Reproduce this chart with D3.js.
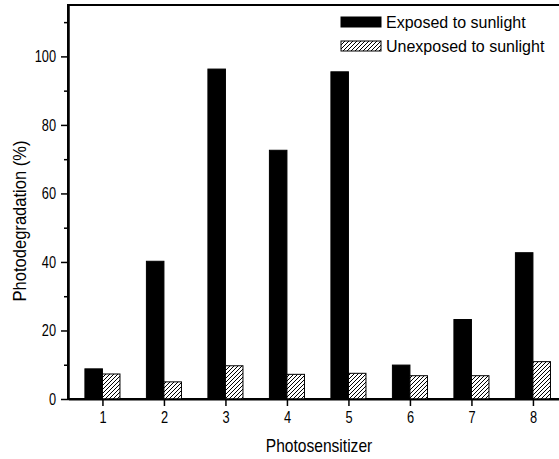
<!DOCTYPE html>
<html>
<head>
<meta charset="utf-8">
<script src="https://cdn.jsdelivr.net/npm/d3@7"></script>
<style>
  body { margin: 0; background: #fff; }
  svg { display: block; }
  svg text { fill: #000; font-family: "Liberation Sans", Arial, Helvetica, sans-serif; }
</style>
</head>
<body>
<div id="chart"></div>
<script>
// values
let categories = [1, 2, 3, 4, 5, 6, 7, 8];
let exposed = [8.8, 40.2, 96.3, 72.6, 95.5, 9.9, 23.2, 42.7];
let unexposed = [7.3, 5.0, 9.7, 7.2, 7.5, 6.8, 6.8, 10.9];
let seriesNames = ['Exposed to sunlight', 'Unexposed to sunlight'];
let yTicks = [0, 20, 40, 60, 80, 100];
let yMinorTicks = [10, 30, 50, 70, 90, 110];
let xTitle = 'Photosensitizer';
let yTitle = 'Photodegradation (%)';

let width = 559;
let height = 459;
let plotLeft = 68, plotRight = 560, plotTop = 5, plotBottom = 399;
let barW = 0.285;

// the original uses a condensed face; squeeze the installed one to match
function squeeze(sel, k) {
  sel.each(function() {
    let w = this.getComputedTextLength();
    d3.select(this)
      .attr('textLength', w * k)
      .attr('lengthAdjust', 'spacingAndGlyphs');
  });
}

let svg = d3.select('#chart').append('svg')
  .attr('width', width)
  .attr('height', height);

let defs = svg.append('defs');
let pat = defs.append('pattern')
  .attr('id', 'hatch')
  .attr('patternUnits', 'userSpaceOnUse')
  .attr('width', 4)
  .attr('height', 4);
pat.append('rect')
  .attr('width', 4)
  .attr('height', 4)
  .attr('fill', '#fff');
pat.append('path')
  .attr('d', 'M-1,1 l2,-2 M0,4 l4,-4 M3,5 l2,-2')
  .attr('stroke', '#000')
  .attr('stroke-width', 1);

let x = d3.scaleLinear()
  .domain([0.44, 8.44])
  .range([plotLeft, plotRight]);

let y = d3.scaleLinear()
  .domain([0, 115])
  .range([plotBottom, plotTop]);

// frame first, so marks sit on it
svg.append('path')
  .attr('d', `M${plotRight},${plotTop}L${plotLeft},${plotTop}L${plotLeft},${plotBottom}L${plotRight},${plotBottom}`)
  .style('fill', 'none')
  .style('stroke', '#000')
  .style('stroke-width', '2px');

// bars
let groups = svg.append('g').attr('class', 'bars');

groups.selectAll('rect.exposed')
  .data(categories)
  .enter()
  .append('rect')
  .attr('class', 'exposed')
  .attr('x', d => x(d - barW))
  .attr('y', (d, i) => y(exposed[i]))
  .attr('width', d => x(d) - x(d - barW))
  .attr('height', (d, i) => y(0) - y(exposed[i]))
  .attr('fill', '#000')
  .attr('stroke', '#000')
  .attr('stroke-width', 1);

groups.selectAll('rect.unexposed')
  .data(categories)
  .enter()
  .append('rect')
  .attr('class', 'unexposed')
  .attr('x', d => x(d))
  .attr('y', (d, i) => y(unexposed[i]))
  .attr('width', d => x(d + barW) - x(d))
  .attr('height', (d, i) => y(0) - y(unexposed[i]))
  .attr('fill', 'url(#hatch)')
  .attr('stroke', '#000')
  .attr('stroke-width', 1);

// axes, keeping the domain line this time
let yAxis = svg.append('g')
  .attr('transform', `translate(${plotLeft},0)`)
  .call(d3.axisLeft(y).tickValues(yTicks).tickSize(7).tickSizeOuter(0).tickPadding(5));

let yMinor = svg.append('g')
  .attr('transform', `translate(${plotLeft},0)`)
  .call(d3.axisLeft(y).tickValues(yMinorTicks).tickSize(4).tickSizeOuter(0).tickFormat(''));

let xAxis = svg.append('g')
  .attr('transform', `translate(0,${plotBottom})`)
  .call(d3.axisBottom(x).tickValues(categories).tickSize(7).tickSizeOuter(0).tickPadding(6));

[yAxis, yMinor, xAxis].forEach(a => {
  a.select('.domain').attr('stroke', '#000').attr('stroke-width', 2);
  a.selectAll('line').attr('stroke', '#000').attr('stroke-width', 1.5);
  a.selectAll('text')
    .style('font-size', '16px')
    .attr('fill', '#000')
    .call(squeeze, 0.8);
});

// titles
svg.append('text')
  .attr('x', 319)
  .attr('y', 452)
  .attr('text-anchor', 'middle')
  .style('font-size', '19px')
  .text(xTitle)
  .call(squeeze, 0.82);

svg.append('text')
  .attr('transform', 'translate(26,221) rotate(-90)')
  .attr('text-anchor', 'middle')
  .style('font-size', '19px')
  .text(yTitle)
  .call(squeeze, 0.87);

// legend
let legend = svg.append('g');
let fills = ['#000', 'url(#hatch)'];
seriesNames.forEach((name, i) => {
  let row = legend.append('g')
    .attr('transform', `translate(341,${17 + i * 24})`);
  row.append('rect')
    .attr('width', 40)
    .attr('height', 10)
    .attr('fill', fills[i])
    .attr('stroke', '#000')
    .attr('stroke-width', 1);
  row.append('text')
    .attr('x', 45)
    .attr('y', 11)
    .style('font-size', '16px')
    .text(name);
});
</script>
</body>
</html>
